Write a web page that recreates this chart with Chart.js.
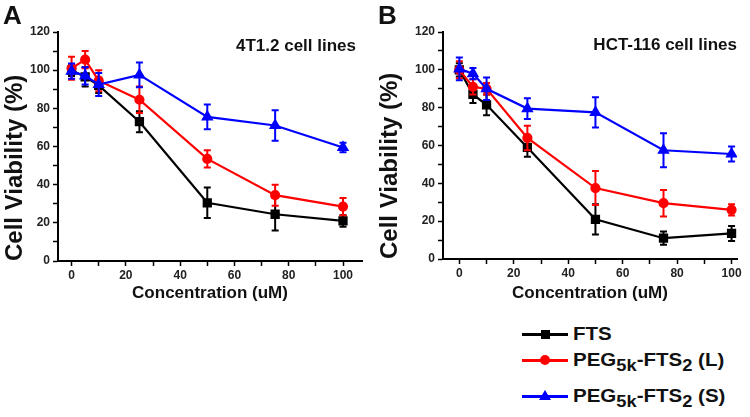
<!DOCTYPE html>
<html><head><meta charset="utf-8">
<script src="https://cdn.jsdelivr.net/npm/chart.js@4.4.1/dist/chart.umd.min.js"></script>
<style>
html,body{margin:0;padding:0;background:#fff;width:750px;height:417px;overflow:hidden;font-family:"Liberation Sans",Arial,sans-serif;}
.panel{position:absolute;top:0;width:375px;height:310px;}
.plabel{position:absolute;font-weight:bold;font-size:26px;line-height:26px;color:#111;}
.inner{position:absolute;font-weight:bold;font-size:17px;line-height:17px;color:#111;text-align:right;width:200px;}
.lline{position:absolute;left:522px;width:46px;height:3px;}
.mk{position:absolute;}
.ltext{position:absolute;left:573px;font-weight:bold;font-size:18px;line-height:18px;color:#111;white-space:nowrap;transform:scaleX(1.14);transform-origin:0 50%;}
.ltext sub{font-size:16px;line-height:0;vertical-align:-5px;}
</style>
</head>
<body>
<div class="panel" style="left:0"><canvas id="cA" width="375" height="310"></canvas></div>
<div class="panel" style="left:375px"><canvas id="cB" width="375" height="310"></canvas></div>
<div class="plabel" style="left:3px;top:2px">A</div>
<div class="plabel" style="left:378px;top:2px">B</div>
<div class="inner" style="left:156px;top:37px">4T1.2 cell lines</div>
<div class="inner" style="left:537px;top:36px">HCT-116 cell lines</div>

<div class="lline" style="top:333px;background:#000"></div>
<div class="mk" style="left:541px;top:330px;width:9px;height:9px;background:#000"></div>
<div class="ltext" style="top:325px">FTS</div>

<div class="lline" style="top:359px;background:#f00"></div>
<div class="mk" style="left:540px;top:355px;width:10px;height:10px;border-radius:50%;background:#f00"></div>
<div class="ltext" style="top:351px">PEG<sub>5k</sub>-FTS<sub>2</sub> (L)</div>

<div class="lline" style="top:395px;background:#00f"></div>
<div class="mk" style="left:539px;top:390px;width:0;height:0;border-left:6px solid transparent;border-right:6px solid transparent;border-bottom:10px solid #00f"></div>
<div class="ltext" style="top:387px">PEG<sub>5k</sub>-FTS<sub>2</sub> (S)</div>

<script>
// ---- data ----
const conc = [0, 5, 10, 25, 50, 75, 100];
const xTickVals = [0, 10, 20, 30, 40, 50, 60, 70, 80, 90, 100];
const yTickVals = [0, 10, 20, 30, 40, 50, 60, 70, 80, 90, 100, 110, 120];

// Panel A: 4T1.2 cell lines
const ftsA = [100, 96.5, 92, 73, 30.5, 24.5, 21];
const ftsAErr = [3, 5, 4, 5.5, 8, 8.5, 3];
const pegLA = [101, 105.5, 94.5, 84.5, 53.5, 34.5, 28.5];
const pegLAErr = [6, 4.5, 5.5, 7, 4.5, 5.5, 4.5];
const pegSA = [99.5, 97, 92.5, 97.5, 75.5, 71, 59.5];
const pegSAErr = [4, 4.5, 6, 6.5, 6.5, 8, 2.5];

// Panel B: HCT-116 cell lines
const ftsB = [100, 87, 81.5, 59, 21, 11, 13.5];
const ftsBErr = [3.5, 4.5, 5.5, 5, 8, 3.5, 4];
const pegLB = [100, 91, 90, 64, 37.5, 29.5, 26];
const pegLBErr = [4.5, 4, 3, 6.5, 9, 7, 3];
const pegSB = [100.5, 98, 90, 79.5, 77.5, 57.5, 55.5];
const pegSBErr = [6, 3, 6, 5.5, 8, 9, 4];

Chart.defaults.font.family = "'Liberation Sans', Arial, sans-serif";

const errorBars = {
  id: 'errorBars',
  afterDatasetDraw(chart, args) {
    const ds = chart.data.datasets[args.index];
    if (!ds.errors) return;
    const ctx = chart.ctx, ys = chart.scales.y;
    ctx.save();
    ctx.strokeStyle = ds.borderColor;
    ctx.lineWidth = 2;
    args.meta.data.forEach((pt, i) => {
      const v = ds.data[i].y, e = ds.errors[i];
      const y1 = ys.getPixelForValue(v + e), y2 = ys.getPixelForValue(v - e);
      const x = pt.x;
      ctx.beginPath();
      ctx.moveTo(x, y1); ctx.lineTo(x, y2);
      ctx.moveTo(x - 3.5, y1); ctx.lineTo(x + 3.5, y1);
      ctx.moveTo(x - 3.5, y2); ctx.lineTo(x + 3.5, y2);
      ctx.stroke();
    });
    ctx.restore();
  }
};

function pts(vals) { return conc.map((c, i) => ({x: c, y: vals[i]})); }

function makeDs(label, vals, errs, color, style, radius, order) {
  return {label, data: pts(vals), errors: errs, borderColor: color, backgroundColor: color,
    pointBackgroundColor: color, pointBorderColor: color, pointStyle: style, pointRadius: radius,
    borderWidth: 2.2, tension: 0, order};
}

function makeChart(id, sets, xmin, xmax, yAxisW, yTitlePad, xAxisH) {
  new Chart(document.getElementById(id), {
    type: 'line',
    data: {datasets: sets},
    plugins: [errorBars],
    options: {
      responsive: false, animation: false, devicePixelRatio: 1,
      layout: {padding: {top: 32, right: 13, left: 0, bottom: 0}},
      plugins: {legend: {display: false}, tooltip: {enabled: false}},
      scales: {
        x: {
          type: 'linear', min: xmin, max: xmax,
          afterBuildTicks: s => { s.ticks = xTickVals.map(v => ({value: v})); },
          afterFit: s => { s.height = xAxisH; },
          ticks: {callback: v => (v % 20 === 0 ? v : ''), font: {size: 12, weight: 'bold'}, color: '#222', padding: 2, maxRotation: 0, autoSkip: false},
          grid: {drawOnChartArea: false, drawTicks: true, tickLength: 5, tickColor: '#000', tickWidth: 1.5},
          border: {color: '#000', width: 2},
          title: {display: true, text: 'Concentration (uM)', font: {size: 17, weight: 'bold'}, color: '#111', padding: {top: 0, bottom: 6}}
        },
        y: {
          type: 'linear', min: 0, max: 120,
          afterBuildTicks: s => { s.ticks = yTickVals.map(v => ({value: v})); },
          afterFit: s => { s.width = yAxisW; },
          ticks: {callback: v => (v % 20 === 0 ? v : ''), font: {size: 12, weight: 'bold'}, color: '#222', padding: 3, autoSkip: false},
          grid: {drawOnChartArea: false, drawTicks: true, tickLength: 5, tickColor: '#000', tickWidth: 1.5},
          border: {color: '#000', width: 2},
          title: {display: true, text: 'Cell Viability (%)', align: 'start', font: {size: 24, weight: 'bold'}, color: '#111', padding: {top: 1, bottom: 0}}
        }
      }
    }
  });
}

makeChart('cA', [
  makeDs('FTS', ftsA, ftsAErr, '#000000', 'rect', 5, 3),
  makeDs('PEG5k-FTS2 (L)', pegLA, pegLAErr, '#ff0000', 'circle', 4, 2),
  makeDs('PEG5k-FTS2 (S)', pegSA, pegSAErr, '#0000ff', 'triangle', 5, 1)
], -5, 107, 58, 1, 49);

makeChart('cB', [
  makeDs('FTS', ftsB, ftsBErr, '#000000', 'rect', 5, 3),
  makeDs('PEG5k-FTS2 (L)', pegLB, pegLBErr, '#ff0000', 'circle', 4, 2),
  makeDs('PEG5k-FTS2 (S)', pegSB, pegSBErr, '#0000ff', 'triangle', 5, 1)
], -6, 102, 68, 11, 51);
</script>
</body></html>
